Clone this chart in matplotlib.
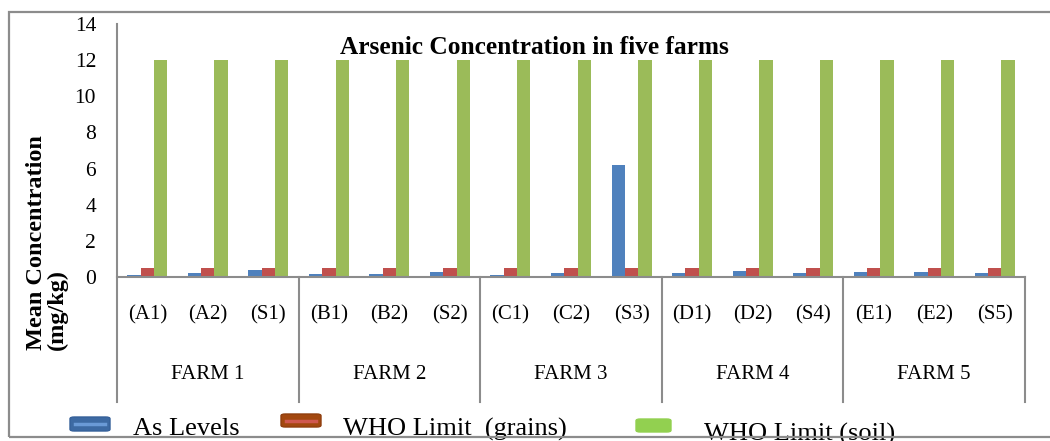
import numpy as np
import matplotlib
matplotlib.use("Agg")
import matplotlib.pyplot as plt
from matplotlib.patches import Rectangle, FancyBboxPatch
from matplotlib.lines import Line2D

# data
samples = ["(A1)", "(A2)", "(S1)", "(B1)", "(B2)", "(S2)", "(C1)", "(C2)", "(S3)",
           "(D1)", "(D2)", "(S4)", "(E1)", "(E2)", "(S5)"]
farms = ["FARM 1", "FARM 2", "FARM 3", "FARM 4", "FARM 5"]
as_levels = [0.10, 0.24, 0.36, 0.18, 0.16, 0.30, 0.10, 0.20, 6.18,
             0.24, 0.32, 0.24, 0.30, 0.26, 0.24]
who_grains = [0.5] * 15
who_soil = [12] * 15

c_blue = "#4f81bd"
c_red = "#c0504d"
c_green = "#9bbb59"
grid_grey = "#8c8c8c"

plt.rcParams["font.family"] = ["Liberation Serif", "DejaVu Serif"]

W, H = 1050, 441
fig = plt.figure(figsize=(W / 100, H / 100), dpi=100)


def fx(px):
    return px / W


def fy(py):
    return (H - py) / H


ax = fig.add_axes([fx(117), fy(277), fx(1025) - fx(117), fy(24) - fy(277)])

x = np.arange(len(samples))
w = 0.22
ax.bar(x - w, as_levels, w, color=c_blue, zorder=2)
ax.bar(x, who_grains, w, color=c_red, zorder=2)
ax.bar(x + w, who_soil, w, color=c_green, zorder=2)

ax.set_xlim(-0.5, len(samples) - 0.5)
ax.set_ylim(0, 14)
ax.set_yticks(np.arange(0, 15, 2))
ax.tick_params(axis="y", length=0, pad=15, labelsize=15.5)
ax.set_xticks([])
for s in ["top", "right", "left"]:
    ax.spines[s].set_visible(False)
ax.spines["bottom"].set_color(grid_grey)
ax.spines["bottom"].set_linewidth(1.5)

# category axis: sample labels, farm labels and separators
low = (277 - 402) / (277 - 24)
ax.add_line(Line2D([-0.5, -0.5], [low, 1.0], transform=ax.get_xaxis_transform(),
                   color=grid_grey, lw=1.5, clip_on=False))
for b in np.arange(2.5, len(samples), 3):
    ax.add_line(Line2D([b, b], [low, 0], transform=ax.get_xaxis_transform(),
                       color=grid_grey, lw=1.5, clip_on=False))
for xi, lab in zip(x, samples):
    ax.text(xi, -0.150, lab, transform=ax.get_xaxis_transform(), ha="center",
            va="center", fontsize=15)
for i, lab in enumerate(farms):
    ax.text(3 * i + 1, -0.387, lab, transform=ax.get_xaxis_transform(),
            ha="center", va="center", fontsize=15)

fig.text(fx(534), fy(47), "Arsenic Concentration in five farms", ha="center",
         va="center", fontsize=18.3, fontweight="bold")

fig.text(fx(47), fy(350), "Mean Concentration\n(mg/kg)", rotation=90,
         ha="center", va="bottom", multialignment="left", fontsize=17.5,
         fontweight="bold", linespacing=0.95)

# legend, drawn as in the source document
def swatch(x0, y0, x1, y1, face, edge=None, inner=None):
    p = FancyBboxPatch((fx(x0), fy(y1)), fx(x1) - fx(x0), fy(y0) - fy(y1),
                       boxstyle="round,pad=0,rounding_size=0.004",
                       transform=fig.transFigure, facecolor=face,
                       edgecolor=edge if edge else face, lw=1)
    fig.patches.append(p)
    if inner:
        ym = fy((y0 + y1) / 2)
        fig.lines.append(Line2D([fx(x0 + 5), fx(x1 - 5)], [ym, ym],
                                transform=fig.transFigure, color=inner, lw=2.5))


swatch(70, 417, 110, 431, "#3d6aa3", "#35609a", "#6a9ad6")
swatch(281, 414, 321, 427, "#a3480f", "#8f3e0e", "#d0584f")
swatch(636, 419, 671, 432, "#92d050")

fig.text(fx(133), fy(435), "As Levels", ha="left", va="baseline", fontsize=19)
fig.text(fx(343), fy(436), "WHO Limit  (grains)", ha="left", va="baseline",
         fontsize=19)
fig.text(fx(704), fy(441), "WHO Limit (soil)", ha="left", va="baseline",
         fontsize=19)

# outer frame
frame = Rectangle((fx(8.5), fy(437)), 1.2, fy(12) - fy(437), transform=fig.transFigure,
                  fill=False, edgecolor=grid_grey, lw=1.6, zorder=10)
fig.patches.append(frame)

fig.savefig("out.png", dpi=100)
